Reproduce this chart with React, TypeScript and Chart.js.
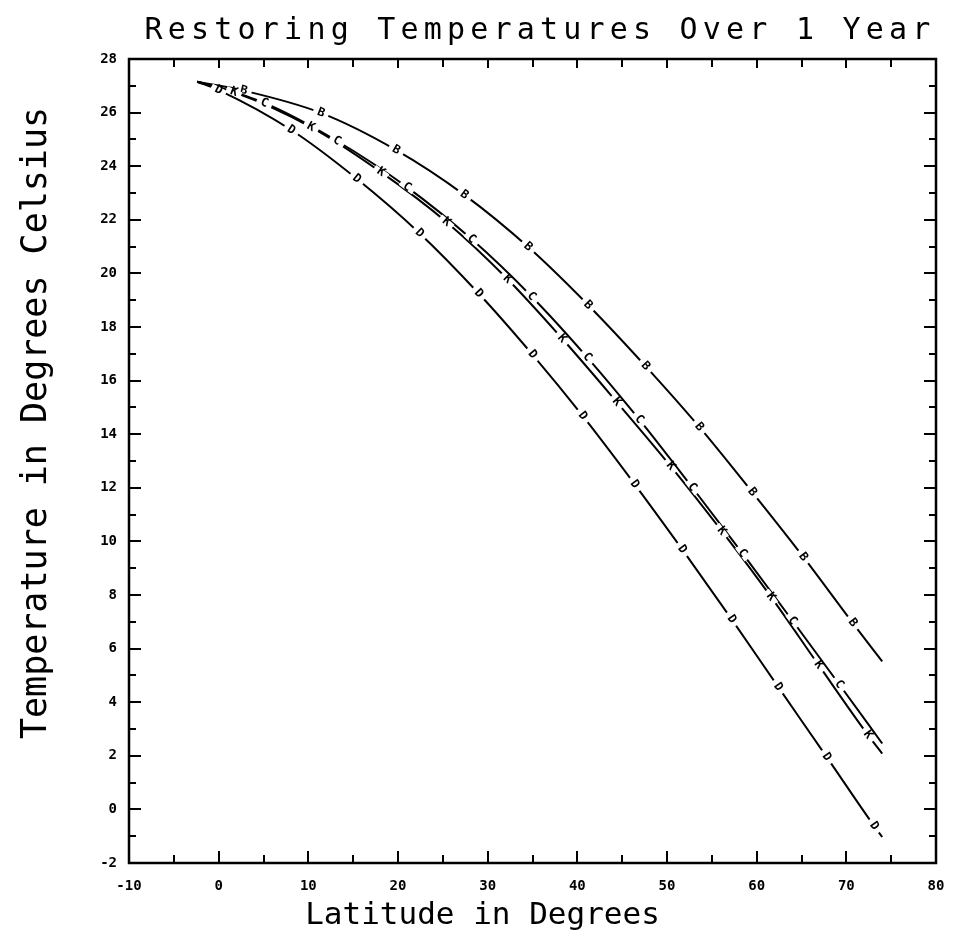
import React, { useEffect, useRef } from 'react';
import { Chart, registerables } from 'chart.js';

Chart.register(...registerables);

// ---- data ----
const latB = [-2.4, 2.8, 11.4, 19.8, 27.4, 34.5, 41.2, 47.6, 53.6, 59.5, 65.2, 70.7, 74.0];
const tempB = [27.15, 26.82, 25.99, 24.6, 22.93, 20.99, 18.82, 16.54, 14.27, 11.84, 9.42, 6.96, 5.52];

const latC = [-2.4, 5.1, 13.2, 21.0, 28.2, 34.9, 41.1, 46.9, 52.8, 58.4, 64.0, 69.2, 74.0];
const tempC = [27.15, 26.36, 24.94, 23.22, 21.28, 19.14, 16.87, 14.55, 12.02, 9.56, 7.04, 4.67, 2.46];

const latK = [-2.4, 1.7, 10.3, 18.1, 25.4, 32.2, 38.3, 44.4, 50.4, 56.1, 61.6, 66.9, 72.4, 74.0];
const tempK = [27.15, 26.77, 25.46, 23.78, 21.92, 19.79, 17.57, 15.2, 12.81, 10.39, 7.93, 5.39, 2.78, 2.08];

const latD = [-2.4, 0.0, 8.1, 15.4, 22.4, 29.0, 35.0, 40.6, 46.4, 51.7, 57.2, 62.4, 67.8, 73.1, 74.0];
const tempD = [27.15, 26.84, 25.35, 23.53, 21.5, 19.25, 16.97, 14.68, 12.13, 9.7, 7.1, 4.57, 1.96, -0.62, -1.03];

const seriesNames = ['B', 'C', 'K', 'D'];

const xMin = -10, xMax = 80, xStep = 10, xMinorStep = 5;
const yMin = -2, yMax = 28, yStep = 2, yMinorStep = 1;

const titleText = 'Restoring Temperatures Over 1 Year';
const xTitle = 'Latitude in Degrees';
const yTitle = 'Temperature in Degrees Celsius';

const MONO = '"DejaVu Sans Mono", monospace';

function wrapDraw(chart: any, obj: any, method: string, spacing: string, dx: number, dy: number) {
  if (!obj || obj['__wrapped_' + method]) return;
  const orig = obj[method].bind(obj);
  obj[method] = (...args: any[]) => {
    const c = chart.ctx;
    c.save();
    try { (c as any).letterSpacing = spacing; } catch (e) {}
    c.translate(dx, dy);
    orig(...args);
    c.restore();
  };
  obj['__wrapped_' + method] = true;
}

const textStylePlugin = {
  id: 'textStyle',
  beforeDraw(chart: any) {
    wrapDraw(chart, chart.titleBlock, 'draw', '5.2px', 72, 0);
    wrapDraw(chart, chart.scales.x, 'drawTitle', '0px', -50, 0);
    wrapDraw(chart, chart.scales.y, 'drawTitle', '0px', 0, -38);
  },
};

const markerPlugin = {
  id: 'letterMarkers',
  afterDatasetsDraw(chart: any) {
    const ctx = chart.ctx;
    chart.data.datasets.forEach((ds: any, di: number) => {
      const pts = chart.getDatasetMeta(di).data;
      for (let i = 1; i < pts.length - 1; i++) {
        const p = pts[i], a = pts[i - 1], b = pts[i + 1];
        const ang = Math.atan2(b.y - a.y, b.x - a.x);
        ctx.save();
        ctx.translate(p.x, p.y);
        ctx.rotate(ang);
        ctx.fillStyle = '#fff';
        ctx.fillRect(-8, -3, 16, 6);
        ctx.fillStyle = '#000';
        ctx.font = 'bold 12px ' + MONO;
        ctx.textAlign = 'center';
        ctx.textBaseline = 'middle';
        ctx.fillText(seriesNames[di], 0, 0);
        ctx.restore();
      }
    });
  },
};

const framePlugin = {
  id: 'frameTicks',
  afterDraw(chart: any) {
    const { ctx, chartArea, scales } = chart;
    const { left, right, top, bottom } = chartArea;
    const x = scales.x, y = scales.y;
    ctx.save();
    ctx.strokeStyle = '#000';
    ctx.lineWidth = 2.5;
    ctx.strokeRect(left, top, right - left, bottom - top);
    ctx.lineWidth = 2;
    ctx.beginPath();
    for (let v = xMin; v <= xMax; v += xMinorStep) {
      const px = Math.round(x.getPixelForValue(v));
      const major = (v - xMin) % xStep === 0;
      ctx.moveTo(px, bottom);
      ctx.lineTo(px, bottom - (major ? 12 : 8));
      ctx.moveTo(px, top);
      ctx.lineTo(px, top + (major ? 9 : 8));
    }
    for (let v = yMin; v <= yMax; v += yMinorStep) {
      const py = Math.round(y.getPixelForValue(v));
      const major = (v - yMin) % yStep === 0;
      ctx.moveTo(left, py);
      ctx.lineTo(left + (major ? 12 : 7), py);
      ctx.moveTo(right, py);
      ctx.lineTo(right - (major ? 12 : 7), py);
    }
    ctx.stroke();
    ctx.restore();
  },
};

function pts(xs: number[], ys: number[]) {
  return xs.map((v, i) => ({ x: v, y: ys[i] }));
}

export default function App() {
  const ref = useRef<HTMLCanvasElement | null>(null);
  useEffect(() => {
    const canvas = ref.current;
    if (!canvas) return;
    const common = {
      borderColor: '#000',
      borderWidth: 2,
      pointRadius: 0,
      fill: false,
      cubicInterpolationMode: 'monotone' as const,
    };
    const chart = new Chart(canvas, {
      type: 'line',
      data: {
        datasets: [
          { label: seriesNames[0], data: pts(latB, tempB), ...common },
          { label: seriesNames[1], data: pts(latC, tempC), ...common },
          { label: seriesNames[2], data: pts(latK, tempK), ...common },
          { label: seriesNames[3], data: pts(latD, tempD), ...common },
        ],
      },
      options: {
        animation: false,
        responsive: false,
        devicePixelRatio: 1,
        layout: { padding: { left: 0, right: 20, top: 0, bottom: 0 } },
        plugins: {
          legend: { display: false },
          tooltip: { enabled: false },
          title: {
            display: true,
            text: titleText,
            color: '#000',
            font: { family: MONO, size: 30, weight: 'normal', lineHeight: 1.2 },
            padding: { top: 13, bottom: 10 },
          },
        },
        scales: {
          x: {
            type: 'linear',
            min: xMin,
            max: xMax,
            grid: { display: false, drawTicks: false },
            border: { display: false },
            ticks: {
              stepSize: xStep,
              color: '#000',
              autoSkip: false,
              maxRotation: 0,
              padding: 15,
              font: { family: MONO, size: 14, weight: 'bold' },
            },
            title: {
              display: true,
              text: xTitle,
              color: '#000',
              font: { family: MONO, size: 31, weight: 'normal', lineHeight: 1.2 },
              padding: { top: 0, bottom: 16 },
            },
            afterFit: (s: any) => { s.height = 88; s.paddingLeft = 0; s.paddingRight = 0; },
          },
          y: {
            type: 'linear',
            min: yMin,
            max: yMax,
            grid: { display: false, drawTicks: false },
            border: { display: false },
            ticks: {
              stepSize: yStep,
              color: '#000',
              autoSkip: false,
              padding: 12,
              font: { family: MONO, size: 14, weight: 'bold' },
            },
            title: {
              display: true,
              text: yTitle,
              color: '#000',
              font: { family: MONO, size: 35, weight: 'normal', lineHeight: 1.2 },
              padding: { top: 16, bottom: 0 },
            },
            afterFit: (s: any) => { s.width = 129; s.paddingTop = 0; s.paddingBottom = 0; },
          },
        },
      } as any,
      plugins: [textStylePlugin, markerPlugin, framePlugin],
    });
    chart.draw();
    return () => chart.destroy();
  }, []);
  return (
    <div style={{ position: 'absolute', left: 0, top: 0, width: 956, height: 951, background: '#fff' }}>
      <canvas ref={ref} width={956} height={951} style={{ display: 'block', width: 956, height: 951 }} />
    </div>
  );
}
